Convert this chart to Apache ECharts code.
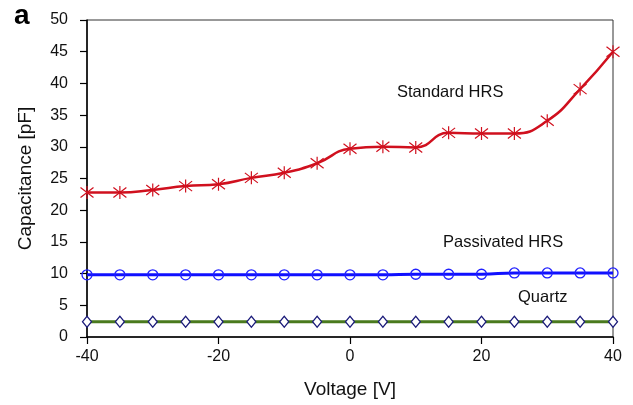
<!DOCTYPE html>
<html>
<head>
<meta charset="utf-8">
<script src="https://cdn.jsdelivr.net/npm/echarts@6/dist/echarts.min.js"></script>
<style>
  html, body { margin: 0; padding: 0; background: #fff; }
  #chartDiv { width: 633px; height: 405px; }
</style>
</head>
<body>
<div id="chartDiv"></div>
<script>
var myChart = echarts.init(document.getElementById('chartDiv'));

// voltages, -40 .. 40 V in 5 V steps
var voltage = [-40, -35, -30, -25, -20, -15, -10, -5, 0, 5, 10, 15, 20, 25, 30, 35, 40];
var standardHRS = [22.8, 22.8, 23.2, 23.8, 24.1, 25.1, 25.9, 27.4, 29.7, 30.0, 29.9, 32.2, 32.1, 32.1, 34.1, 39.1, 45.0];
var passivatedHRS = [9.8, 9.8, 9.8, 9.8, 9.8, 9.8, 9.8, 9.8, 9.8, 9.8, 9.9, 9.9, 9.9, 10.1, 10.1, 10.1, 10.1];
var quartz = [2.4, 2.4, 2.4, 2.4, 2.4, 2.4, 2.4, 2.4, 2.4, 2.4, 2.4, 2.4, 2.4, 2.4, 2.4, 2.4, 2.4];

function pairs(ys) {
    return voltage.map(function (v, i) { return [v, ys[i]]; });
}

var font = 'Liberation Sans, Arial, sans-serif';
var asterisk = 'path://M0,0 L10,10 M10,0 L0,10 M5,-1.5 L5,11.5';

option = {
    backgroundColor: '#fff',
    animation: false,
    textStyle: { fontFamily: font },
    grid: {
        left: 87, right: 20, top: 20, bottom: 68,
        show: true, borderColor: '#333', borderWidth: 1
    },
    xAxis: {
        type: 'value',
        min: -40, max: 40, interval: 20,
        name: 'Voltage [V]',
        nameLocation: 'middle',
        nameGap: 43,
        nameTextStyle: { fontSize: 19, color: '#111', fontFamily: font },
        axisLine: { show: true, onZero: false, lineStyle: { color: '#000', width: 1.5 } },
        axisTick: { show: true, length: 7, lineStyle: { color: '#000', width: 1.2 } },
        axisLabel: { margin: 12, fontSize: 16, color: '#111', fontFamily: font },
        splitLine: { show: false }
    },
    yAxis: {
        type: 'value',
        min: 0, max: 50, interval: 5,
        name: 'Capacitance [pF]',
        nameLocation: 'middle',
        nameGap: 52,
        nameTextStyle: { fontSize: 19, color: '#111', fontFamily: font },
        axisLine: { show: true, onZero: false, lineStyle: { color: '#000', width: 1.5 } },
        axisTick: { show: true, length: 7, lineStyle: { color: '#000', width: 1.2 } },
        axisLabel: { margin: 19, fontSize: 16, color: '#111', fontFamily: font },
        splitLine: { show: false }
    },
    graphic: [
        { type: 'text', left: 14, top: 2, style: { text: 'a', font: 'bold 28px ' + font, fill: '#000' } },
        { type: 'text', left: 397, top: 84, style: { text: 'Standard HRS', font: '16.5px ' + font, fill: '#111' } },
        { type: 'text', left: 443, top: 234, style: { text: 'Passivated HRS', font: '16.5px ' + font, fill: '#111' } },
        { type: 'text', left: 518, top: 289, style: { text: 'Quartz', font: '16.5px ' + font, fill: '#111' } }
    ],
    series: [
        {
            name: 'Quartz',
            type: 'line',
            smooth: true,
            data: pairs(quartz),
            lineStyle: { color: '#4a7a1e', width: 3 },
            symbol: 'diamond',
            symbolSize: [9, 11],
            itemStyle: { color: '#fff', borderColor: '#1a1a7a', borderWidth: 1.3 }
        },
        {
            name: 'Passivated HRS',
            type: 'line',
            smooth: true,
            data: pairs(passivatedHRS),
            lineStyle: { color: '#1010ff', width: 3 },
            symbol: 'circle',
            symbolSize: 10,
            itemStyle: { color: 'rgba(255,255,255,0)', borderColor: '#2020ff', borderWidth: 1.3 }
        },
        {
            name: 'Standard HRS',
            type: 'line',
            smooth: true,
            data: pairs(standardHRS),
            lineStyle: { color: '#d0101e', width: 2.5 },
            symbol: asterisk,
            symbolSize: 13,
            itemStyle: { color: 'rgba(0,0,0,0)', borderColor: '#d0101e', borderWidth: 1.2 }
        }
    ]
};
myChart.setOption(option);
</script>
</body>
</html>
